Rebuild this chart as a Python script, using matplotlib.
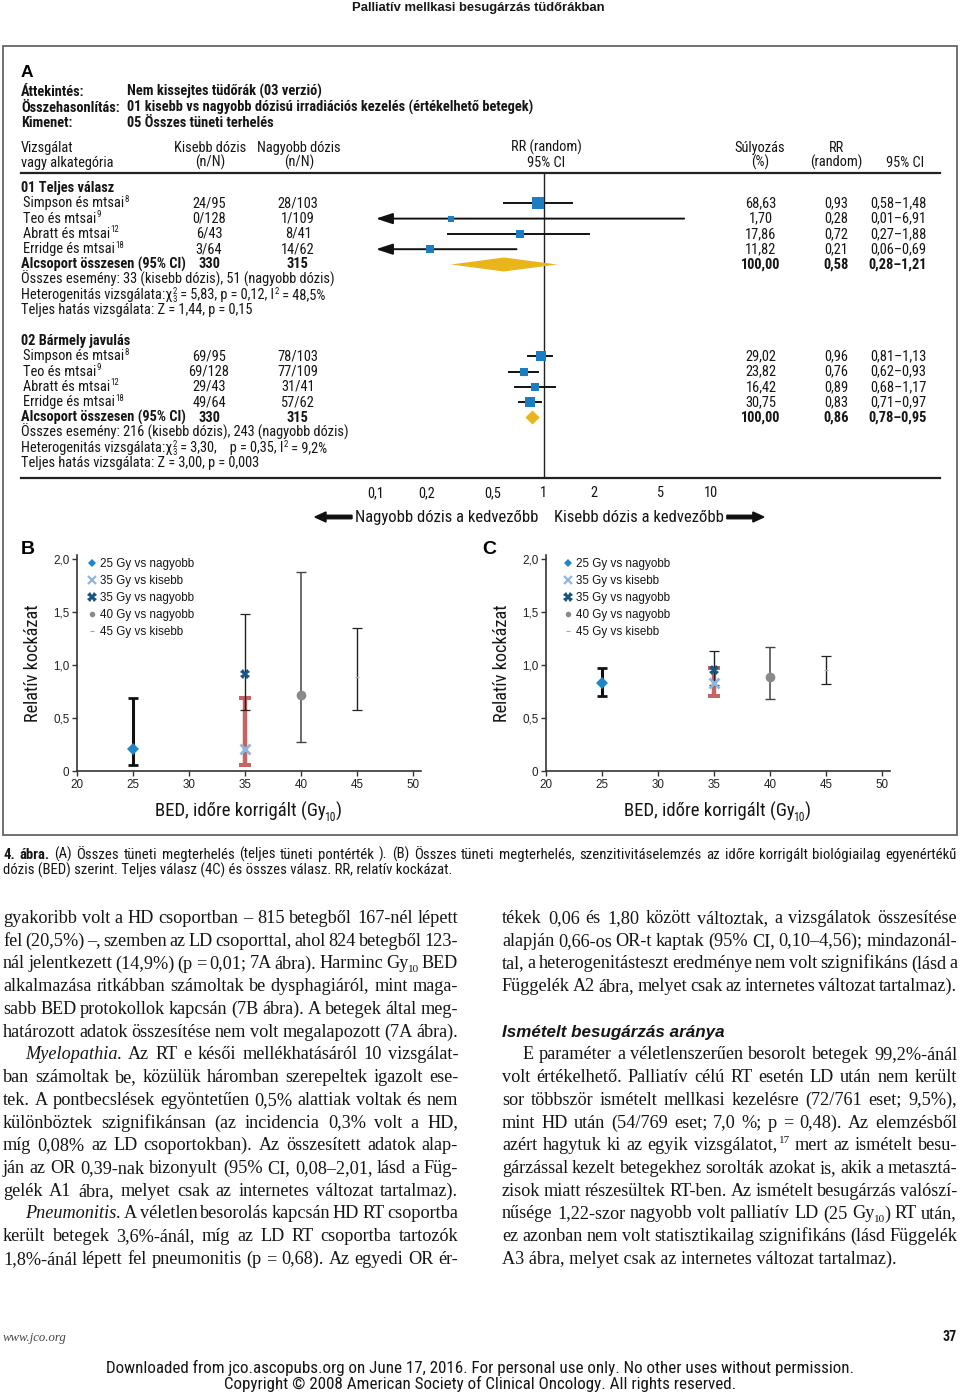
import re
import matplotlib
matplotlib.use('Agg')
import matplotlib.pyplot as plt
from matplotlib import font_manager as fm
from matplotlib.patches import Polygon, Rectangle, FancyArrow

W, H = 960, 1393
PX = 100 / 72  # pixel per point

SANS = ['Liberation Sans', 'DejaVu Sans']
SERIF = ['Liberation Serif', 'DejaVu Serif']

# keskeny betűtípus keresése (Univers Condensed helyett)
_names = {f.name for f in fm.fontManager.ttflist}
COND, COND_STRETCH = ['Liberation Sans', 'DejaVu Sans'], 'normal'
for nm in ['Liberation Sans Narrow', 'Arial Narrow', 'Roboto Condensed', 'Noto Sans Condensed',
           'Open Sans Condensed', 'DejaVu Sans Condensed']:
    if nm in _names:
        COND = [nm, 'Liberation Sans', 'DejaVu Sans']
        break
else:
    cands = [f.name for f in fm.fontManager.ttflist
             if str(f.stretch) in ('condensed', 'semi-condensed')
             and f.name in ('Roboto', 'Noto Sans', 'Open Sans', 'DejaVu Sans', 'Liberation Sans')]
    if cands:
        COND, COND_STRETCH = [cands[0], 'DejaVu Sans'], 'condensed'

# ---------------- A: forest plot adatai ----------------
study_names = ['Simpson és mtsai^{8}', 'Teo és mtsai^{9}', 'Abratt és mtsai^{12}', 'Erridge és mtsai^{18}']

g1_title = '01 Teljes válasz'
g1_low_n = ['24/95', '0/128', '6/43', '3/64']
g1_high_n = ['28/103', '1/109', '8/41', '14/62']
g1_weight = [68.63, 1.70, 17.86, 11.82]
g1_rr = [0.93, 0.28, 0.72, 0.21]
g1_lo = [0.58, 0.01, 0.27, 0.06]
g1_hi = [1.48, 6.91, 1.88, 0.69]
g1_tot_n = ['330', '315']
g1_tot_rr, g1_tot_lo, g1_tot_hi = 0.58, 0.28, 1.21
g1_notes = ['Összes esemény: 33 (kisebb dózis), 51 (nagyobb dózis)',
            'Heterogenitás vizsgálata:χ^{2}_{3} = 5,83, p = 0,12, I^{2} = 48,5%',
            'Teljes hatás vizsgálata: Z = 1,44, p = 0,15']

g2_title = '02 Bármely javulás'
g2_low_n = ['69/95', '69/128', '29/43', '49/64']
g2_high_n = ['78/103', '77/109', '31/41', '57/62']
g2_weight = [29.02, 23.82, 16.42, 30.75]
g2_rr = [0.96, 0.76, 0.89, 0.83]
g2_lo = [0.81, 0.62, 0.68, 0.71]
g2_hi = [1.13, 0.93, 1.17, 0.97]
g2_tot_n = ['330', '315']
g2_tot_rr, g2_tot_lo, g2_tot_hi = 0.86, 0.78, 0.95
g2_notes = ['Összes esemény: 216 (kisebb dózis), 243 (nagyobb dózis)',
            'Heterogenitás vizsgálata:χ^{2}_{3} = 3,30,    p = 0,35, I^{2} = 9,2%',
            'Teljes hatás vizsgálata: Z = 3,00, p = 0,003']

forest_ticks = [0.1, 0.2, 0.5, 1, 2, 5, 10]

# ---------------- B / C panelek ----------------
ser_labels = ['25 Gy vs nagyobb', '35 Gy vs kisebb', '35 Gy vs nagyobb', '40 Gy vs nagyobb', '45 Gy vs kisebb']
ser_bed = [25, 35, 35, 40, 45]
b_rr = [0.21, 0.21, 0.92, 0.72, 0.89]
b_lo = [0.06, 0.055, 0.58, 0.27, 0.58]
b_hi = [0.69, 0.69, 1.48, 1.88, 1.35]
c_rr = [0.83, 0.83, 0.95, 0.89, 0.95]
c_lo = [0.71, 0.71, 0.81, 0.68, 0.82]
c_hi = [0.97, 0.97, 1.13, 1.17, 1.09]
bc_xticks = [20, 25, 30, 35, 40, 45, 50]
bc_yticks = [0, 0.5, 1.0, 1.5, 2.0]

# ---------------- szöveg ----------------
caption = ['**4.** **ábra.** (A) Összes tüneti megterhelés (teljes tüneti pontérték ). (B) Összes tüneti megterhelés, '
           'szenzitivitáselemzés az időre korrigált biológiailag egyenértékű',
           'dózis (BED) szerint. Teljes válasz (4C) és összes válasz. RR, relatív kockázat.']

left_col = [
    (0, 'gyakoribb volt a HD csoportban – 815 betegből 167-nél lépett'),
    (0, 'fel (20,5%) –, szemben az LD csoporttal, ahol 824 betegből 123-'),
    (0, 'nál jelentkezett (14,9%) (p = 0,01; 7A ábra). Harminc Gy_{10} BED'),
    (0, 'alkalmazása ritkábban számoltak be dysphagiáról, mint maga-'),
    (0, 'sabb BED protokollok kapcsán (7B ábra). A betegek által meg-'),
    (0, 'határozott adatok összesítése nem volt megalapozott (7A ábra).'),
    (1, '*Myelopathia.* Az RT e késői mellékhatásáról 10 vizsgálat-'),
    (0, 'ban számoltak be, közülük háromban szerepeltek igazolt ese-'),
    (0, 'tek. A pontbecslések egyöntetűen 0,5% alattiak voltak és nem'),
    (0, 'különböztek szignifikánsan (az incidencia 0,3% volt a HD,'),
    (0, 'míg 0,08% az LD csoportokban). Az összesített adatok alap-'),
    (0, 'ján az OR 0,39-nak bizonyult (95% CI, 0,08–2,01, lásd a Füg-'),
    (0, 'gelék A1 ábra, melyet csak az internetes változat tartalmaz).'),
    (1, '*Pneumonitis.* A véletlen besorolás kapcsán HD RT csoportba'),
    (0, 'került betegek 3,6%-ánál, míg az LD RT csoportba tartozók'),
    (0, '1,8%-ánál lépett fel pneumonitis (p = 0,68). Az egyedi OR ér-'),
]
right_col_a = [
    'tékek 0,06 és 1,80 között változtak, a vizsgálatok összesítése',
    'alapján 0,66-os OR-t kaptak (95% CI, 0,10–4,56); mindazonál-',
    'tal, a heterogenitásteszt eredménye nem volt szignifikáns (lásd a',
    'Függelék A2 ábra, melyet csak az internetes változat tartalmaz).',
]
right_heading = 'Ismételt besugárzás aránya'
right_col_b = [
    (1, 'E paraméter a véletlenszerűen besorolt betegek 99,2%-ánál'),
    (0, 'volt értékelhető. Palliatív célú RT esetén LD után nem került'),
    (0, 'sor többször ismételt mellkasi kezelésre (72/761 eset; 9,5%),'),
    (0, 'mint HD után (54/769 eset; 7,0 %; p = 0,48). Az elemzésből'),
    (0, 'azért hagytuk ki az egyik vizsgálatot,^{17} mert az ismételt besu-'),
    (0, 'gárzással kezelt betegekhez sorolták azokat is, akik a metasztá-'),
    (0, 'zisok miatt részesültek RT-ben. Az ismételt besugárzás valószí-'),
    (0, 'nűsége 1,22-szor nagyobb volt palliatív LD (25 Gy_{10}) RT után,'),
    (0, 'ez azonban nem volt statisztikailag szignifikáns (lásd Függelék'),
    (0, 'A3 ábra, melyet csak az internetes változat tartalmaz).'),
]


def hu(v, d=2):
    return f'{v:.{d}f}'.replace('.', ',')


fig = plt.figure(figsize=(W / 100, H / 100), dpi=100)
page = fig.add_axes([0, 0, 1, 1])
page.set_xlim(0, W)
page.set_ylim(H, 0)
page.axis('off')
R = fig.canvas.get_renderer()

MARK = r'([_^]\{[^}]*\}|\*\*[^*]+\*\*|\*[^*]+\*)'


def width(t):
    return t.get_window_extent(renderer=R).width


def stretch_of(family):
    return COND_STRETCH if family is COND else 'normal'


def make_run(text, y, size, family, weight, style, color):
    # szöveg darabokra: normál / félkövér / dőlt / felső / alsó index
    segs, carry = [], ''
    for piece in [p for p in re.split(MARK, text) if p]:
        w_, s_, kind, body, sz, dy, dx = weight, style, 'n', piece, size, 0, 0
        if piece[:2] in ('_{', '^{'):
            kind = 'sub' if piece[0] == '_' else 'sup'
            body, sz = piece[2:-1], size * 0.62
            if kind == 'sub':
                dy, dx = size * PX * 0.22, -0.08 * size * PX
            else:
                dy, dx = -size * PX * 0.38, 0.03 * size * PX
        elif piece.startswith('**'):
            body, w_ = piece[2:-2], 'bold'
        elif piece.startswith('*') and len(piece) > 2:
            body, s_ = piece[1:-1], 'italic'
        if kind == 'n':
            body = carry + body
            stripped = body.rstrip(' ')
            carry, body = body[len(stripped):], stripped
        if not body:
            continue
        t = page.text(0, y + dy, body, fontsize=sz, family=family, fontstretch=stretch_of(family),
                      weight=w_, style=s_, color=color, va='baseline')
        segs.append((t, width(t) + dx, kind, dx))
    return segs


def place_run(segs, x):
    cur, prev, prev_x = x, None, x
    for t, sw, kind, dx in segs:
        if kind == 'sub' and prev == 'sup':
            t.set_x(prev_x)
            cur = max(cur, prev_x + sw - dx)
        else:
            t.set_x(cur + dx)
            prev_x = cur + dx
            cur += sw
        prev = kind
    return cur - x


def line(text, x, y, size, family, weight='normal', style='normal', color='#151515',
         ha='left', x1=None, indent=0):
    if x1 is None:
        segs = make_run(text, y, size, family, weight, style, color)
        total = place_run(segs, 0)
        start = x + indent
        if ha == 'center':
            start = x - total / 2
        elif ha == 'right':
            start = x - total
        place_run(segs, start)
        return total
    # sorkizárt sor: szavanként
    toks = [make_run(tk, y, size, family, weight, style, color) if tk else [] for tk in text.split(' ')]
    ws = [place_run(s, 0) for s in toks]
    gap = (x1 - x - indent - sum(ws)) / max(len(toks) - 1, 1)
    cx = x + indent
    for s, w in zip(toks, ws):
        place_run(s, cx)
        cx += w + gap
    return x1 - x


def fit(text, target, family, weight='normal', style='normal'):
    before = len(page.texts)
    w = line(text, 0, 0, 10, family, weight, style)
    for t in list(page.texts)[before:]:
        t.remove()
    return 10 * target / w


# ---------------- fejléc, keret ----------------
fs_title = fit('Palliatív mellkasi besugárzás tüdőrákban', 255, SANS, 'bold')
line('Palliatív mellkasi besugárzás tüdőrákban', 478, 11, fs_title, SANS, 'bold', ha='center')
page.add_patch(Rectangle((3, 46), 954, 789, fill=False, ec='#666666', lw=1.3))

# ---------------- A panel: táblázat ----------------
fs = fit(g1_notes[0], 311, COND)
BO = 4  # alapvonal eltolás a sor közepéhez képest

page.text(21, 77, 'A', fontsize=12.5, family=SANS, weight='bold', va='baseline')
for yy, k, v in [(92, 'Áttekintés:', 'Nem kissejtes tüdőrák (03 verzió)'),
                 (108, 'Összehasonlítás:', '01 kisebb vs nagyobb dózisú irradiációs kezelés (értékelhető betegek)'),
                 (123, 'Kimenet:', '05 Összes tüneti terhelés')]:
    line(k, 21, yy + BO, fs, COND, 'bold')
    line(v, 127, yy + BO, fs, COND, 'bold')

hdr = [(21, 'left', 'Vizsgálat', 'vagy alkategória'), (210, 'center', 'Kisebb dózis', '(n/N)'),
       (299, 'center', 'Nagyobb dózis', '(n/N)'), (546, 'center', 'RR (random)', '95% CI'),
       (760, 'center', 'Súlyozás', '(%)'), (836, 'center', 'RR', '(random)'),
       (905, 'center', '', '95% CI')]
for hx, ha, t1, t2 in hdr:
    if t1:
        line(t1, hx, 148 + BO, fs, COND, ha=ha)
    line(t2, hx, 163 + BO, fs, COND, ha=ha)

page.plot([21, 940], [173, 173], color='#222222', lw=1.6)
page.plot([21, 940], [478, 478], color='#222222', lw=1.6)

# forest tengely: log skála, y = pixel sor
ax_f = fig.add_axes([376 / W, 1 - 478 / H, (711 - 376) / W, (478 - 173) / H])
ax_f.set_xscale('log')
ax_f.set_xlim(0.1, 10)
ax_f.set_ylim(478, 173)
ax_f.patch.set_alpha(0)
for s in ax_f.spines.values():
    s.set_visible(False)
ax_f.minorticks_off()
ax_f.set_yticks([])
ax_f.set_xticks(forest_ticks)
ax_f.set_xticklabels([hu(t, 1) if t < 1 else str(t) for t in forest_ticks],
                     fontfamily=COND, fontstretch=COND_STRETCH, fontsize=fs)
ax_f.tick_params(axis='x', length=0, pad=6, colors='#151515')
ax_f.axvline(1, color='#222222', lw=1.0, zorder=1)

SQ = '#1b7dc2'
DIA = '#e8b51a'
row_h = 15.3


def forest_group(y0, title, low_n, high_n, weight, rr, lo, hi, tot_n, trr, tlo, thi, notes):
    line(title, 21, y0 + BO, fs, COND, 'bold')
    for i in range(len(rr)):
        y = y0 + row_h * (i + 1)
        line(study_names[i], 23, y + BO, fs, COND)
        line(low_n[i], 209, y + BO, fs, COND, ha='center')
        line(high_n[i], 298, y + BO, fs, COND, ha='center')
        line(hu(weight[i]), 761, y + BO, fs, COND, ha='center')
        line(hu(rr[i]), 836, y + BO, fs, COND, ha='center')
        line(hu(lo[i]) + '–' + hu(hi[i]), 898, y + BO, fs, COND, ha='center')
        if lo[i] < 0.1:
            ax_f.annotate('', xy=(0.1, y), xytext=(hi[i], y), annotation_clip=False,
                          arrowprops=dict(arrowstyle='-|>,head_length=1.0,head_width=0.33', mutation_scale=10,
                                          color='#111111', lw=1.4, shrinkA=0, shrinkB=0))
        else:
            ax_f.plot([lo[i], hi[i]], [y, y], color='#111111', lw=1.4, zorder=2)
        ax_f.plot([rr[i]], [y], 's', color=SQ, ms=(4.3 + 0.95 * weight[i] ** 0.5) * 0.72, mew=0, zorder=3)
    y = y0 + row_h * (len(rr) + 1)
    line('Alcsoport összesen (95% CI)', 21, y + BO, fs, COND, 'bold')
    line(tot_n[0], 209, y + BO, fs, COND, 'bold', ha='center')
    line(tot_n[1], 297, y + BO, fs, COND, 'bold', ha='center')
    line('100,00', 761, y + BO, fs, COND, 'bold', ha='center')
    line(hu(trr), 836, y + BO, fs, COND, 'bold', ha='center')
    line(hu(tlo) + '–' + hu(thi), 898, y + BO, fs, COND, 'bold', ha='center')
    ax_f.add_patch(Polygon([(tlo, y), (trr, y - 7), (thi, y), (trr, y + 7)], closed=True,
                           fc=DIA, ec='none', zorder=3))
    for j, note in enumerate(notes):
        line(note, 21, y + row_h * (j + 1) + BO, fs, COND)


forest_group(188, g1_title, g1_low_n, g1_high_n, g1_weight, g1_rr, g1_lo, g1_hi,
             g1_tot_n, g1_tot_rr, g1_tot_lo, g1_tot_hi, g1_notes)
forest_group(341, g2_title, g2_low_n, g2_high_n, g2_weight, g2_rr, g2_lo, g2_hi,
             g2_tot_n, g2_tot_rr, g2_tot_lo, g2_tot_hi, g2_notes)

fs_arr = fit('Nagyobb dózis a kedvezőbb', 183, COND)
line('Nagyobb dózis a kedvezőbb', 538, 517 + 5, fs_arr, COND, ha='right')
w_k = line('Kisebb dózis a kedvezőbb', 554, 517 + 5, fs_arr, COND)
page.add_patch(FancyArrow(352, 517, -37, 0, width=3.5, head_width=10, head_length=11,
                          length_includes_head=True, color='#111111'))
page.add_patch(FancyArrow(554 + w_k + 3, 517, 37, 0, width=3.5, head_width=10, head_length=11,
                          length_includes_head=True, color='#111111'))

# ---------------- B és C panel ----------------
styles = [
    dict(marker='D', mc='#1f86c8', ms=6.2, mew=0, ec='#111111', elw=2.2, cap=3.8, lms=4.2),
    dict(marker='x', mc='#8fb6e0', ms=6.5, mew=2.0, ec='#c46464', elw=3.2, cap=4.2, lms=5.5),
    dict(marker='X', mc='#17547f', ms=7.0, mew=0, ec='#222222', elw=1.0, cap=3.6, lms=6.5),
    dict(marker='o', mc='#8a8a8a', ms=7.0, mew=0, ec='#444444', elw=1.1, cap=3.6, lms=4.0),
    dict(marker='_', mc='#b5b5b5', ms=3.0, mew=1.0, ec='#222222', elw=1.0, cap=3.6, lms=3.0),
]
legend_dash = '#d49090'
fs_tick = 8.4


def bc_panel(left, letter, lx, rr, lo, hi):
    ax = fig.add_axes([left / W, 1 - 771 / H, 344 / W, 216 / H])
    ax.patch.set_alpha(0)
    for i in [1, 0, 2, 3, 4]:
        st = styles[i]
        ax.errorbar([ser_bed[i]], [rr[i]], yerr=[[rr[i] - lo[i]], [hi[i] - rr[i]]], fmt='none',
                    ecolor=st['ec'], elinewidth=st['elw'], capsize=st['cap'], capthick=st['elw'] * 0.9,
                    zorder=2)
    for i in [0, 1, 3, 4, 2]:
        st = styles[i]
        ax.plot([ser_bed[i]], [rr[i]], st['marker'], color=st['mc'], ms=st['ms'], mew=st['mew'], zorder=4)
    ax.set_xlim(20, 50.7)
    ax.set_ylim(0, 2.04)
    ax.spines['top'].set_visible(False)
    ax.spines['right'].set_visible(False)
    for s in ['left', 'bottom']:
        ax.spines[s].set_color('#333333')
        ax.spines[s].set_linewidth(1.2)
    ax.set_xticks(bc_xticks)
    ax.set_xticklabels([str(v) for v in bc_xticks], fontfamily=SANS)
    ax.set_yticks(bc_yticks)
    ax.set_yticklabels(['0'] + [hu(v, 1) for v in bc_yticks[1:]], fontfamily=SANS)
    ax.tick_params(length=3.5, width=1, color='#333333', labelsize=fs_tick, labelcolor='#222222', pad=2)

    # panel betű és jelmagyarázat
    page.text(letter[1], 554, letter[0], fontsize=14, family=SANS, weight='bold', va='baseline')
    for j, lab in enumerate(ser_labels):
        yy = 563 + 17 * j
        st = styles[j]
        col = legend_dash if j == 4 else st['mc']
        page.plot([lx], [yy], st['marker'], color=col, ms=st['lms'], mew=st['mew'] * 0.8)
        line(lab, lx + 8.5, yy + 4, fs_tick, SANS)

    # tengelyfeliratok
    fs_yl = fit('Relatív kockázat', 117, COND)
    page.text(left - 44, 663, 'Relatív kockázat', rotation=90, fontsize=fs_yl, family=COND,
              fontstretch=COND_STRETCH, ha='center', va='center', color='#151515')
    fs_xl = fit('BED, időre korrigált (Gy_{10})', 186, COND)
    line('BED, időre korrigált (Gy_{10})', left + 171, 812 + 5, fs_xl, COND, ha='center')
    return ax


bc_panel(77, ('B', 21), 92, b_rr, b_lo, b_hi)
bc_panel(546, ('C', 482), 568, c_rr, c_lo, c_hi)

# ---------------- ábraaláírás ----------------
fs_cap = fit(caption[1], 447, COND)
line(caption[0], 3, 855 + 4, fs_cap, COND, x1=957)
line(caption[1], 3, 871 + 4, fs_cap, COND)

# ---------------- folyószöveg ----------------
fs_body = fit(right_col_b[-1][1], 396, SERIF)
lead = 22.73
for k, (ind, txt) in enumerate(left_col):
    line(txt, 3, 918 + lead * k + 5, fs_body, SERIF, x1=458, indent=22 * ind)
for k, txt in enumerate(right_col_a):
    line(txt, 502, 918 + lead * k + 5, fs_body, SERIF, x1=957)
fs_head = fit(right_heading, 223, SANS, 'bold', 'italic')
line(right_heading, 502, 918 + lead * 5 + 5, fs_head, SANS, 'bold', 'italic')
for k, (ind, txt) in enumerate(right_col_b):
    last = k == len(right_col_b) - 1
    line(txt, 502, 918 + lead * (k + 6) + 5, fs_body, SERIF, x1=None if last else 957, indent=21 * ind)

# ---------------- lábléc ----------------
fs_web = fit('www.jco.org', 64, SERIF, style='italic')
line('www.jco.org', 3, 1337 + 4, fs_web, SERIF, style='italic', color='#444444')
line('37', 957, 1337 + 4, 10, COND, 'bold', ha='right')
dl1 = 'Downloaded from jco.ascopubs.org on June 17, 2016. For personal use only. No other uses without permission.'
dl2 = 'Copyright © 2008 American Society of Clinical Oncology. All rights reserved.'
fs_dl = fit(dl1, 747, COND)
line(dl1, 480, 1368 + 5, fs_dl, COND, ha='center')
line(dl2, 480, 1384 + 5, fs_dl, COND, ha='center')

fig.savefig('out.png', dpi=100)
